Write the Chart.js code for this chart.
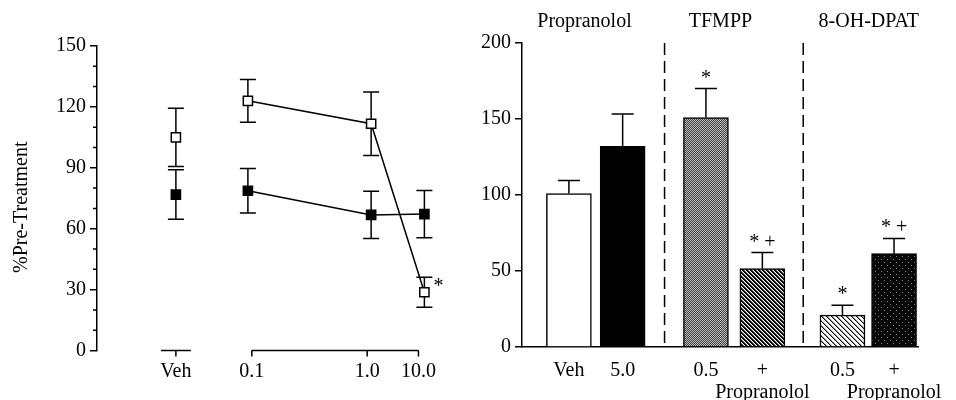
<!DOCTYPE html>
<html>
<head>
<meta charset="utf-8">
<script src="https://cdn.jsdelivr.net/npm/chart.js@4.4.1/dist/chart.umd.min.js"></script>
<style>
html, body { margin: 0; padding: 0; background: #fff; }
#wrap { position: relative; width: 956px; height: 400px; }
#left { position: absolute; left: 0; top: 0; }
#right { position: absolute; left: 460px; top: 0; }
</style>
</head>
<body>
<div id="wrap">
<canvas id="left" width="460" height="400"></canvas>
<canvas id="right" width="496" height="400"></canvas>
</div>
<script>
// left panel - dose response (open / filled squares)
var doseLabels = ['Veh', '0.1', '1.0', '10.0'];
var doseTickPos = [0, 1.283, 3.233, 4.1];
var dosePointPos = [0, 1.217, 3.3, 4.2];
var openMean = [105, 123, 111.7, 28.7];
var openSem = [14.3, 10.5, 15.7, 7.4];
var filledMean = [76.8, 78.7, 66.8, 67.2];
var filledSem = [12.2, 11, 11.6, 11.6];
var openSig = ['', '', '', '*'];

// right panel - bars
var barLabels = ['Veh', '5.0', '0.5', ['+', 'Propranolol'], '0.5', ['+', 'Propranolol']];
var barPos = [1, 2, 3.55, 4.6, 6.09, 7.05];
var barMean = [101, 132, 151, 51.6, 21, 61.4];
var barSem = [8.6, 21.3, 19, 10.5, 6.5, 10];
var barSig = ['', '', '*', '* +', '*', '* +'];
var groupNames = ['Propranolol', 'TFMPP', '8-OH-DPAT'];
var groupPos = [1.29, 3.82, 6.58];
var dividerPos = [2.78, 5.36];

var serif = "'Liberation Serif', 'Times New Roman', serif";
Chart.defaults.font.family = serif;
Chart.defaults.font.size = 20;
Chart.defaults.color = '#000';

function makePattern(size, levelAt) {
    var c = document.createElement('canvas');
    c.width = size; c.height = size;
    var g = c.getContext('2d');
    var img = g.createImageData(size, size);
    for (var y = 0; y < size; y++) {
        for (var x = 0; x < size; x++) {
            var v = levelAt(x, y), k = (y * size + x) * 4;
            img.data[k] = v; img.data[k + 1] = v; img.data[k + 2] = v; img.data[k + 3] = 255;
        }
    }
    g.putImageData(img, 0, 0);
    return g.createPattern(c, 'repeat');
}
var grayDots = makePattern(2, function(x, y){ return (x + y) % 2 ? 70 : 185; });
var darkHatch = makePattern(4, function(x, y){ var d = (x - y + 8) % 4; return d < 2 ? 0 : (d === 2 ? 120 : 255); });
var lightHatch = makePattern(5, function(x, y){ var d = (x - y + 10) % 5; return d === 0 ? 0 : (d === 1 ? 150 : 255); });
var speckle = makePattern(6, function(x, y){ return (x === 1 && y === 1) || (x === 4 && y === 4) ? 130 : 8; });
var barFills = ['#fff', '#000', grayDots, darkHatch, lightHatch, speckle];

function pts(mean) {
    return mean.map(function(v, i){ return {x: dosePointPos[i], y: v}; });
}

var doseExtras = {
    id: 'doseExtras',
    beforeDatasetsDraw: function(chart) {
        var ctx = chart.ctx, xs = chart.scales.x, ys = chart.scales.y;
        ctx.save();
        ctx.strokeStyle = '#000';
        ctx.lineWidth = 1.5;
        [[openMean, openSem], [filledMean, filledSem]].forEach(function(s){
            s[0].forEach(function(m, i){
                var x = xs.getPixelForValue(dosePointPos[i]);
                var top = ys.getPixelForValue(m + s[1][i]);
                var bot = ys.getPixelForValue(m - s[1][i]);
                ctx.beginPath();
                ctx.moveTo(x, top); ctx.lineTo(x, bot);
                ctx.moveTo(x - 8, top); ctx.lineTo(x + 8, top);
                ctx.moveTo(x - 8, bot); ctx.lineTo(x + 8, bot);
                ctx.stroke();
            });
        });
        ctx.restore();
    },
    afterDraw: function(chart) {
        var ctx = chart.ctx, xs = chart.scales.x, ys = chart.scales.y;
        ctx.save();
        ctx.strokeStyle = '#000';
        ctx.lineWidth = 1.5;
        // minor ticks on y axis
        ctx.beginPath();
        for (var v = 0; v <= 150; v += 10) {
            if (v % 30 === 0) continue;
            var py = ys.getPixelForValue(v);
            ctx.moveTo(xs.left - 4, py); ctx.lineTo(xs.left, py);
        }
        // split x axis
        var y0 = ys.getPixelForValue(0);
        var xv = xs.getPixelForValue(doseTickPos[0]);
        ctx.moveTo(xv - 15, y0); ctx.lineTo(xv + 15, y0);
        ctx.moveTo(xv, y0); ctx.lineTo(xv, y0 + 6);
        ctx.moveTo(xs.getPixelForValue(doseTickPos[1]), y0);
        ctx.lineTo(xs.getPixelForValue(doseTickPos[3]), y0);
        for (var i = 1; i < doseTickPos.length; i++) {
            var tx = xs.getPixelForValue(doseTickPos[i]);
            ctx.moveTo(tx, y0); ctx.lineTo(tx, y0 + 6);
        }
        ctx.stroke();
        // axis title
        ctx.fillStyle = '#000';
        ctx.font = '20px ' + serif;
        ctx.save();
        ctx.translate(22, (ys.top + ys.bottom) / 2 + 9);
        ctx.rotate(-Math.PI / 2);
        ctx.textAlign = 'center';
        ctx.textBaseline = 'middle';
        ctx.fillText('%Pre-Treatment', 0, 0);
        ctx.restore();
        // significance marks
        ctx.textAlign = 'left';
        ctx.textBaseline = 'alphabetic';
        openSig.forEach(function(s, i){
            if (!s) return;
            ctx.fillText(s, xs.getPixelForValue(dosePointPos[i]) + 9, ys.getPixelForValue(openMean[i]));
        });
        ctx.restore();
    }
};

new Chart(document.getElementById('left').getContext('2d'), {
    type: 'line',
    data: {
        datasets: [{
            label: 'open',
            data: pts(openMean),
            borderColor: '#000',
            borderWidth: 1.5,
            backgroundColor: '#fff',
            pointStyle: 'rect',
            pointRadius: 6.5,
            pointBorderWidth: 1.5,
            pointBackgroundColor: '#fff',
            pointBorderColor: '#000',
            segment: { borderColor: function(c){ return c.p0DataIndex === 0 ? 'transparent' : '#000'; } }
        }, {
            label: 'filled',
            data: pts(filledMean),
            borderColor: '#000',
            borderWidth: 1.5,
            backgroundColor: '#000',
            pointStyle: 'rect',
            pointRadius: 6.5,
            pointBorderWidth: 1.5,
            pointBackgroundColor: '#000',
            pointBorderColor: '#000',
            segment: { borderColor: function(c){ return c.p0DataIndex === 0 ? 'transparent' : '#000'; } }
        }]
    },
    options: {
        responsive: false,
        animation: false,
        layout: { padding: { top: 46, right: 3, left: 0, bottom: 0 } },
        plugins: { legend: { display: false }, tooltip: { enabled: false } },
        scales: {
            x: {
                type: 'linear',
                min: -1.3333,
                max: 4.6667,
                grid: { display: false, drawTicks: false },
                border: { display: false },
                afterBuildTicks: function(axis){ axis.ticks = doseTickPos.map(function(v){ return {value: v}; }); },
                afterFit: function(axis){ axis.height = 49.5; },
                ticks: {
                    autoSkip: false, maxRotation: 0, minRotation: 0, padding: 10,
                    font: { lineHeight: 1.1 },
                    callback: function(v, i){ return doseLabels[i]; }
                }
            },
            y: {
                min: 0,
                max: 150,
                grid: { drawOnChartArea: false, drawTicks: true, tickLength: 7, color: '#000', lineWidth: 1.5 },
                border: { display: true, color: '#000', width: 1.5 },
                afterFit: function(axis){ axis.width = 97; },
                ticks: { stepSize: 30, padding: 4 }
            }
        }
    },
    plugins: [doseExtras]
});

var barExtras = {
    id: 'barExtras',
    beforeDatasetsDraw: function(chart) {
        var ctx = chart.ctx, xs = chart.scales.x, ys = chart.scales.y;
        ctx.save();
        ctx.strokeStyle = '#000';
        ctx.lineWidth = 1.5;
        ctx.setLineDash([12, 6]);
        dividerPos.forEach(function(p){
            var x = xs.getPixelForValue(p);
            ctx.beginPath();
            ctx.moveTo(x, ys.top); ctx.lineTo(x, ys.bottom);
            ctx.stroke();
        });
        ctx.restore();
    },
    afterDatasetsDraw: function(chart) {
        var ctx = chart.ctx, xs = chart.scales.x, ys = chart.scales.y;
        ctx.save();
        ctx.strokeStyle = '#000';
        ctx.fillStyle = '#000';
        ctx.lineWidth = 1.5;
        ctx.font = '20px ' + serif;
        ctx.textAlign = 'center';
        ctx.textBaseline = 'alphabetic';
        barMean.forEach(function(m, i){
            var x = xs.getPixelForValue(barPos[i]);
            var top = ys.getPixelForValue(m + barSem[i]);
            ctx.beginPath();
            ctx.moveTo(x, ys.getPixelForValue(m)); ctx.lineTo(x, top);
            ctx.moveTo(x - 11, top); ctx.lineTo(x + 11, top);
            ctx.stroke();
            if (barSig[i]) ctx.fillText(barSig[i], x, top - 5);
        });
        groupNames.forEach(function(n, i){
            ctx.fillText(n, xs.getPixelForValue(groupPos[i]), 27);
        });
        ctx.restore();
    }
};

new Chart(document.getElementById('right').getContext('2d'), {
    type: 'bar',
    data: {
        datasets: [{
            data: barPos.map(function(p, i){ return {x: p, y: barMean[i]}; }),
            backgroundColor: barFills,
            borderColor: '#000',
            borderWidth: 1.5,
            barThickness: 45
        }]
    },
    options: {
        responsive: false,
        animation: false,
        layout: { padding: { top: 43, right: 28, left: 0, bottom: 0 } },
        plugins: { legend: { display: false }, tooltip: { enabled: false } },
        scales: {
            x: {
                type: 'linear',
                min: 0.1273,
                max: 7.509,
                offset: false,
                grid: { display: false, drawTicks: false },
                border: { display: true, color: '#000', width: 1.5 },
                afterBuildTicks: function(axis){ axis.ticks = barPos.map(function(v){ return {value: v}; }); },
                afterFit: function(axis){ axis.height = 53; },
                ticks: {
                    autoSkip: false, maxRotation: 0, minRotation: 0, padding: 13,
                    font: { lineHeight: 1.1 },
                    callback: function(v, i){ return barLabels[i]; }
                }
            },
            y: {
                min: 0,
                max: 200,
                grid: { drawOnChartArea: false, drawTicks: true, tickLength: 7, color: '#000', lineWidth: 1.5 },
                border: { display: true, color: '#000', width: 1.5 },
                afterFit: function(axis){ axis.width = 62; },
                ticks: { stepSize: 50, padding: 4 }
            }
        }
    },
    plugins: [barExtras]
});
</script>
</body>
</html>
